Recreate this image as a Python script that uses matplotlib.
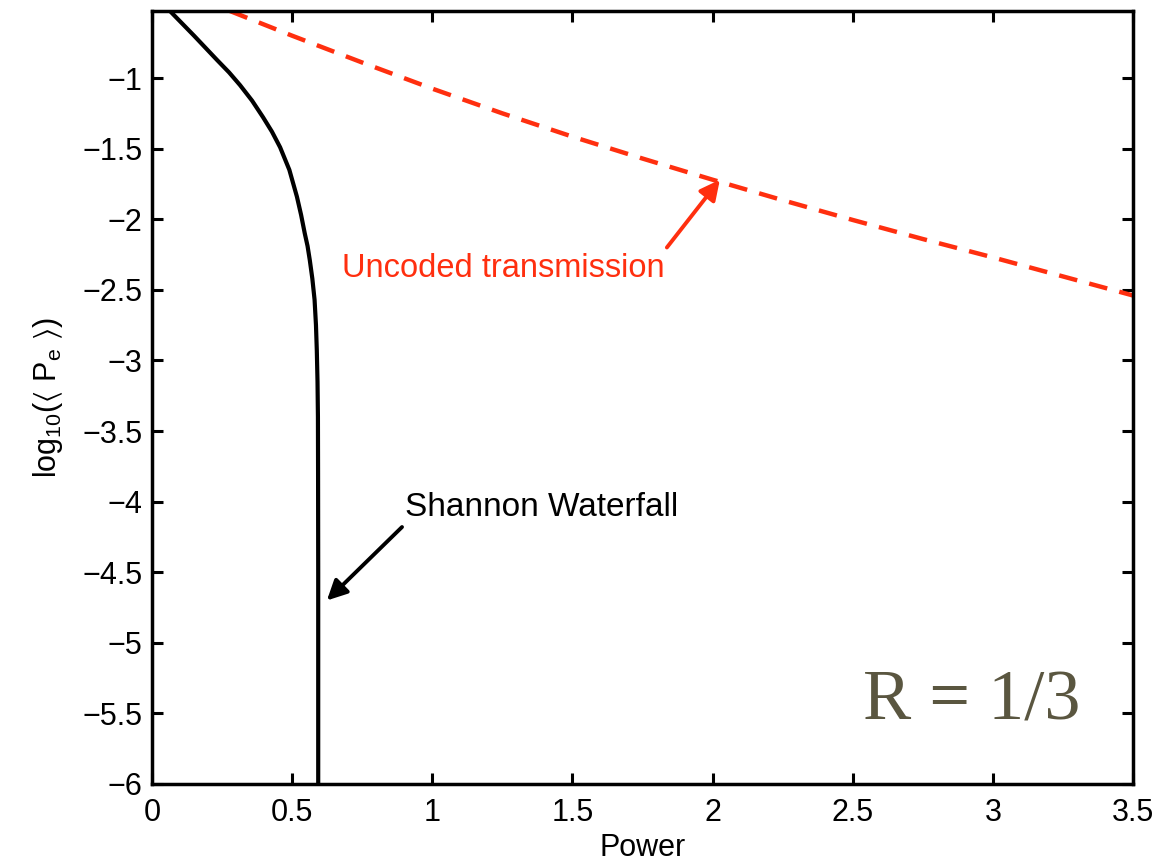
import matplotlib
matplotlib.use('Agg')
import matplotlib.pyplot as plt

# values
power_shannon = [0.064, 0.15, 0.232, 0.275, 0.314, 0.357, 0.396, 0.428, 0.457, 0.49,
                 0.517, 0.532, 0.545, 0.555, 0.563, 0.572, 0.58, 0.585, 0.588, 0.5905,
                 0.592, 0.5925, 0.593, 0.593]
logpe_shannon = [-0.525, -0.70, -0.872, -0.96, -1.05, -1.16, -1.277, -1.38, -1.49, -1.65,
                 -1.84, -1.97, -2.1, -2.19, -2.29, -2.42, -2.57, -2.75, -2.93, -3.15,
                 -3.4, -3.8, -4.5, -6.0]

power_uncoded = [0.278, 0.5, 0.75, 1.0, 1.25, 1.5, 1.75, 2.0, 2.25, 2.5, 2.75, 3.0, 3.25, 3.5]
logpe_uncoded = [-0.525, -0.70, -0.89, -1.075, -1.25, -1.415, -1.57, -1.72, -1.865,
                 -2.005, -2.14, -2.27, -2.405, -2.54]

xticks = [0, 0.5, 1, 1.5, 2, 2.5, 3, 3.5]
xticklabels = ['0', '0.5', '1', '1.5', '2', '2.5', '3', '3.5']
yticks = [-6, -5.5, -5, -4.5, -4, -3.5, -3, -2.5, -2, -1.5, -1]
yticklabels = ['\u22126', '\u22125.5', '\u22125', '\u22124.5', '\u22124', '\u22123.5',
               '\u22123', '\u22122.5', '\u22122', '\u22121.5', '\u22121']

red = '#ff2f0f'

plt.rcParams.update({'font.size': 22,
                     'font.family': ['Liberation Sans', 'DejaVu Sans'],
                     'mathtext.fontset': 'custom',
                     'mathtext.rm': 'Liberation Sans',
                     'mathtext.it': 'Liberation Sans',
                     'mathtext.fallback': 'stixsans'})

fig = plt.figure(figsize=(11.63, 8.66), dpi=100)
ax = fig.add_axes([0.1307, 0.0947, 0.9742 - 0.1307, 0.9873 - 0.0947])

ax.plot(power_shannon, logpe_shannon, color='black', linewidth=3.0, solid_capstyle='butt')
ax.plot(power_uncoded, logpe_uncoded, color=red, linewidth=3.2, dashes=(4.2, 2.8))

ax.set_xlim(0, 3.5)
ax.set_ylim(-6, -0.525)
ax.set_xticks(xticks)
ax.set_xticklabels(xticklabels)
ax.set_yticks(yticks)
ax.set_yticklabels(yticklabels)
ax.tick_params(direction='in', length=8, width=2.2, top=True, right=True, pad=7)
ax.tick_params(axis='x', pad=10)
for s in ax.spines.values():
    s.set_linewidth(2.5)

ax.set_xlabel('Power', labelpad=4)
ax.set_ylabel(r'log$_{10}$($\langle$ P$_{\mathrm{e}}$ $\rangle$)', labelpad=12)

ax.annotate('', xy=(0.624, -4.70), xytext=(0.892, -4.18),
            arrowprops=dict(arrowstyle='-|>', color='black', lw=2.8, mutation_scale=30,
                            shrinkA=0, shrinkB=0))
ax.text(0.902, -4.10, 'Shannon Waterfall', fontsize=24, color='black',
        ha='left', va='baseline')

ax.annotate('', xy=(2.026, -1.72), xytext=(1.837, -2.20),
            arrowprops=dict(arrowstyle='-|>', color=red, lw=2.8, mutation_scale=30,
                            shrinkA=0, shrinkB=0))
ax.text(0.678, -2.41, 'Uncoded transmission', fontsize=23.5, color=red,
        ha='left', va='baseline')

ax.text(2.536, -5.54, 'R = 1/3', fontsize=52, color='#5a5640',
        family='Liberation Serif', ha='left', va='baseline')

plt.savefig('out.png', dpi=100)
